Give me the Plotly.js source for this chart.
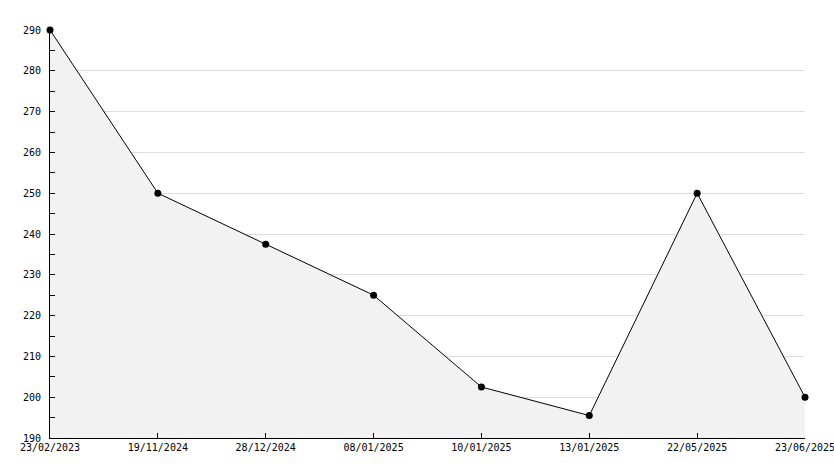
<!DOCTYPE html>
<html>
<head>
<meta charset="utf-8">
<script src="https://cdn.plot.ly/plotly-3.0.1.min.js"></script>
<style>html,body{margin:0;padding:0;background:#fff;}#chart{width:834px;height:468px;}</style>
</head>
<body>
<div id="chart"></div>
<script>
const dates = ["23/02/2023","19/11/2024","28/12/2024","08/01/2025","10/01/2025","13/01/2025","22/05/2025","23/06/2025"];
const values = [290, 250, 237.5, 225, 202.5, 195.5, 250, 200];
const yTicks = [190, 200, 210, 220, 230, 240, 250, 260, 270, 280, 290];

const idx = dates.map((d, i) => i);
const font = {family: "DejaVu Sans Mono, monospace", size: 10, color: "#000"};

Plotly.newPlot("chart", [{
  x: idx, y: values, type: "scatter", mode: "lines+markers",
  fill: "tozeroy", fillcolor: "#f2f2f2",
  line: {color: "#000", width: 1},
  marker: {color: "#000", size: 7, symbol: "circle"},
  cliponaxis: false, hoverinfo: "none"
}], {
  width: 834, height: 468,
  margin: {l: 50, r: 29, t: 30, b: 30},
  paper_bgcolor: "#fff", plot_bgcolor: "#fff",
  showlegend: false,
  font: font,
  xaxis: {
    range: [0, dates.length - 1], tickmode: "array", tickvals: idx, ticktext: dates,
    showgrid: false, zeroline: false, showline: true, linecolor: "#000", linewidth: 1,
    ticks: "inside", ticklen: 5, tickcolor: "#000", tickfont: font, fixedrange: true,
    ticklabeloverflow: "allow"
  },
  yaxis: {
    range: [190, 290], tickmode: "array", tickvals: yTicks, ticktext: yTicks.map(String),
    showgrid: true, gridcolor: "#dcdcdc", gridwidth: 1, zeroline: false,
    showline: true, linecolor: "#000", linewidth: 1,
    ticks: "inside", ticklen: 5, tickcolor: "#000", tickfont: font,
    ticklabelstandoff: 6, ticklabeloverflow: "allow",
    minor: {dtick: 5, tick0: 190, ticks: "inside", ticklen: 5, tickcolor: "#000", showgrid: false},
    fixedrange: true
  }
}, {displayModeBar: false, staticPlot: true});
</script>
</body>
</html>
